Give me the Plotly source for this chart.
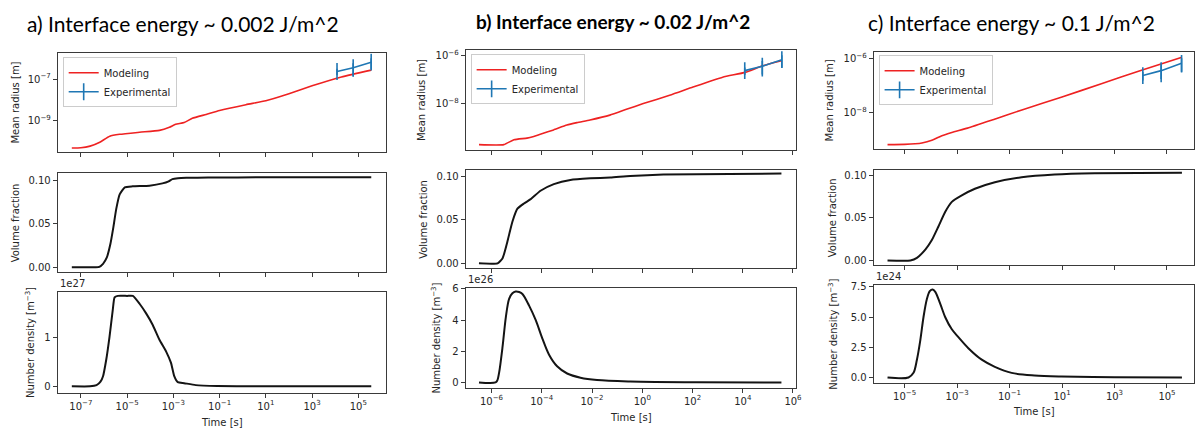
import plotly.graph_objects as go

W, H = 1202, 430

# ---------------- data ----------------
TITLES = ["a) Interface energy ~ 0.002 J/m^2",
          "b) Interface energy ~ 0.02 J/m^2",
          "c) Interface energy ~ 0.1 J/m^2"]

# experimental mean radius (same in all panels)
EXP_T = [1.2e4, 6.0e4, 3.6e5]
EXP_R = [2.3e-7, 3.5e-7, 6.5e-7]
EXP_ERR = [0.8e-7, 2.2e-7, 3.5e-7]

# ---- panel a ----
A_R_LOGT = [-7.39, -7.0, -6.6, -6.18, -5.75, -5.32, -4.46, -3.6, -3.17, -2.9, -2.53, -2.18,
            -1.58, -1.0, 0.14, 1.0, 2.0, 3.0, 4.27, 5.56]
A_R_LOGR = [-10.33, -10.32, -10.24, -10.05, -9.76, -9.67, -9.57, -9.48, -9.33, -9.19, -9.10, -8.90,
            -8.71, -8.52, -8.24, -8.05, -7.71, -7.33, -6.90, -6.57]
A_VF_LOGT = [-7.39, -6.5, -6.2, -6.04, -5.88, -5.72, -5.6, -5.47, -5.32, -5.1, -4.76, -4.03,
             -3.47, -3.2, -3.04, -2.8, -2.44, -1.5, 1.0, 5.56]
A_VF = [0, 0, 0.0005, 0.004, 0.011, 0.027, 0.045, 0.067, 0.084, 0.092, 0.0932, 0.094,
        0.0966, 0.099, 0.1015, 0.1025, 0.103, 0.1034, 0.1036, 0.1037]
A_ND_LOGT = [-7.39, -6.6, -6.32, -6.15, -6.04, -5.9, -5.76, -5.62, -5.54, -5.4, -5.0, -4.75,
             -4.46, -4.17, -3.89, -3.6, -3.31, -3.1, -2.96, -2.81, -2.53, -2.03, -1.1, 0.5, 5.56]
A_ND_1E27 = [0.005, 0.005, 0.03, 0.1, 0.21, 0.55, 1.01, 1.55, 1.81, 1.84, 1.84, 1.84,
             1.68, 1.48, 1.25, 0.95, 0.71, 0.48, 0.21, 0.09, 0.07, 0.03, 0.012, 0.006, 0.005]

# ---- panel b ----
B_R_LOGT = [-6.5, -5.51, -5.11, -4.59, -4.32, -4.06, -3.53, -3.0, -2.6, -2.08, -1.29, -0.63,
            0.04, 1.09, 2.02, 3.2, 4.1, 4.79, 5.54]
B_R_LOGR = [-9.70, -9.70, -9.50, -9.43, -9.36, -9.27, -9.09, -8.89, -8.79, -8.68, -8.48, -8.24,
            -8.0, -7.66, -7.32, -6.91, -6.71, -6.44, -6.23]
B_VF_LOGT = [-6.5, -5.76, -5.56, -5.37, -5.17, -4.97, -4.71, -4.44, -4.05, -3.52, -2.86, -2.07,
             -1.27, -0.48, 0.84, 3.48, 5.54]
B_VF = [0, 0, 0.006, 0.025, 0.048, 0.063, 0.069, 0.074, 0.0837, 0.0913, 0.0962, 0.098,
        0.099, 0.1008, 0.1023, 0.103, 0.1035]
B_ND_LOGT = [-6.5, -5.84, -5.77, -5.7, -5.56, -5.43, -5.3, -5.17, -5.04, -4.9, -4.77, -4.51,
             -4.24, -3.98, -3.71, -3.39, -2.99, -2.46, -1.8, -0.48, 2.16, 5.54]
B_ND_1E26 = [0.02, 0.02, 0.15, 0.63, 2.32, 4.2, 5.37, 5.72, 5.83, 5.8, 5.68, 4.95,
             4.0, 2.84, 1.79, 1.05, 0.59, 0.32, 0.17, 0.08, 0.03, 0.02]

# ---- panel c ----
C_R_LOGT = [-5.65, -5.0, -4.6, -4.34, -3.96, -3.58, -3.2, -2.6, -1.6, -0.5, 1.0, 2.5, 4.0, 5.57]
C_R_LOGR = [-9.19, -9.18, -9.16, -9.13, -9.03, -8.86, -8.74, -8.58, -8.26, -7.9, -7.43, -6.94,
            -6.45, -5.96]
C_VF_LOGT = [-5.65, -4.78, -4.53, -4.21, -3.96, -3.71, -3.45, -3.2, -2.82, -2.32, -1.56, -0.54,
             0.72, 2.24, 5.57]
C_VF = [0, 0, 0.003, 0.0128, 0.024, 0.04, 0.0573, 0.069, 0.0767, 0.0845, 0.0922, 0.098,
        0.1012, 0.1027, 0.1035]
C_ND_LOGT = [-5.65, -4.85, -4.66, -4.53, -4.4, -4.28, -4.15, -4.04, -3.93, -3.83, -3.64, -3.45,
             -3.2, -2.95, -2.57, -2.06, -1.56, -0.92, -0.05, 0.97, 3.0, 5.57]
C_ND_1E24 = [0.02, 0.02, 0.4, 1.49, 3.11, 5.0, 6.5, 7.15, 7.3, 7.1, 6.1, 5.0,
             4.0, 3.35, 2.44, 1.49, 0.9, 0.4, 0.19, 0.1, 0.03, 0.02]

# tick labels
X_TICK_EXP = [[-7, -5, -3, -1, 1, 3, 5], [-6, -4, -2, 0, 2, 4, 6], [-5, -3, -1, 1, 3, 5]]
R_TICK_EXP = [[-9, -7], [-8, -6], [-8, -6]]
VF_TICKS = [0.0, 0.05, 0.10]
VF_TICKTEXT = ["0.00", "0.05", "0.10"]
ND_TICKS = [[0, 1], [0, 2, 4, 6], [0, 2.5, 5.0, 7.5]]
ND_TICKTEXT = [["0", "1"], ["0", "2", "4", "6"], ["0.0", "2.5", "5.0", "7.5"]]
ND_OFFSET = ["1e27", "1e26", "1e24"]

# ---------------- layout geometry (pixels) ----------------
COL_X = [(58, 388), (468, 800), (878, 1200)]
ROW_Y = [[(49, 149), (170, 271), (291, 393)],
         [(46, 147), (167, 267), (287, 388)],
         [(48, 146), (167, 264), (284, 383)]]
X_RANGE = [(-8.0, 6.2), (-7.03, 6.12), (-6.18, 6.03)]
R_RANGE = [(-10.52, -5.76), (-9.92, -5.8), (-9.35, -5.78)]
VF_RANGE = [(-0.0057, 0.109), (-0.0057, 0.108), (-0.0058, 0.107)]
ND_RANGE = [(-0.12, 1.92), (-0.31, 6.06), (-0.41, 7.66)]
YLAB_X = [(16, 16, 30), (423, 426, 438), (834, 837, 837)]
LEG_POS = [(63, 53), (473, 50), (883, 51)]
TITLE_POS = [(184, 19), (616, 17), (1017, 18)]
TITLE_SIZE = [21, 19, 21]
TIMELAB_Y = [423, 418, 412]


def px_x(x):
    return x / W


def px_y(y):
    return 1 - y / H


def sup(e):
    s = str(e).replace("-", "\u2212")
    return f"10<sup>{s}</sup>"


FONT = "DejaVu Sans"
TXT = "#262626"
RED = "#ee2222"
BLUE = "#1f77b4"
BLK = "#141414"

fig = go.Figure()
layout = dict(width=W, height=H, margin=dict(l=0, r=0, t=0, b=0),
              paper_bgcolor="white", plot_bgcolor="white", showlegend=True,
              font=dict(family=FONT, size=10, color=TXT))
annotations = []

panels = [
    (A_R_LOGT, A_R_LOGR, A_VF_LOGT, A_VF, A_ND_LOGT, A_ND_1E27),
    (B_R_LOGT, B_R_LOGR, B_VF_LOGT, B_VF, B_ND_LOGT, B_ND_1E26),
    (C_R_LOGT, C_R_LOGR, C_VF_LOGT, C_VF, C_ND_LOGT, C_ND_1E24),
]

for c, (rlt, rlr, vlt, vf, nlt, nd) in enumerate(panels):
    leg = "legend" if c == 0 else f"legend{c + 1}"
    for r in range(3):
        i = c * 3 + r + 1
        xa = "xaxis" if i == 1 else f"xaxis{i}"
        ya = "yaxis" if i == 1 else f"yaxis{i}"
        y0, y1 = ROW_Y[c][r]
        x0, x1 = COL_X[c]
        common = dict(showline=True, mirror=True, linecolor="#3a3a3a", linewidth=1,
                      ticks="outside", ticklen=4, tickwidth=1, tickcolor="#3a3a3a",
                      showgrid=False, zeroline=False,
                      tickfont=dict(family=FONT, size=10, color=TXT))
        layout[xa] = dict(common, type="log", domain=[px_x(x0), px_x(x1)],
                          range=list(X_RANGE[c]), anchor=f"y{i}" if i > 1 else "y",
                          tickmode="array",
                          tickvals=[10 ** e for e in X_TICK_EXP[c]],
                          ticktext=[sup(e) for e in X_TICK_EXP[c]],
                          showticklabels=(r == 2))
        ydict = dict(common, domain=[px_y(y1), px_y(y0)], anchor=f"x{i}" if i > 1 else "x")
        if r == 0:
            ydict.update(type="log", range=list(R_RANGE[c]), tickmode="array",
                         tickvals=[10 ** e for e in R_TICK_EXP[c]],
                         ticktext=[sup(e) for e in R_TICK_EXP[c]])
        elif r == 1:
            ydict.update(range=list(VF_RANGE[c]), tickmode="array",
                         tickvals=VF_TICKS, ticktext=VF_TICKTEXT)
        else:
            ydict.update(range=list(ND_RANGE[c]), tickmode="array",
                         tickvals=ND_TICKS[c], ticktext=ND_TICKTEXT[c])
        layout[ya] = ydict
        xref = "x" if i == 1 else f"x{i}"
        yref = "y" if i == 1 else f"y{i}"

        if r == 0:
            fig.add_trace(go.Scatter(
                x=[10 ** v for v in rlt], y=[10 ** v for v in rlr], mode="lines",
                line=dict(color=RED, width=1.6, shape="spline", smoothing=0.5),
                name="Modeling", xaxis=xref, yaxis=yref, legend=leg))
            fig.add_trace(go.Scatter(
                x=EXP_T, y=EXP_R, mode="lines+markers",
                line=dict(color=BLUE, width=1.6),
                marker=dict(symbol="line-ns", size=12, color=BLUE,
                            line=dict(color=BLUE, width=1.6)),
                error_y=dict(type="data", array=EXP_ERR, color=BLUE, thickness=1.6, width=0),
                name="Experimental", xaxis=xref, yaxis=yref, legend=leg))
        elif r == 1:
            fig.add_trace(go.Scatter(
                x=[10 ** v for v in vlt], y=vf, mode="lines",
                line=dict(color=BLK, width=2, shape="spline", smoothing=0.5),
                showlegend=False, xaxis=xref, yaxis=yref))
        else:
            fig.add_trace(go.Scatter(
                x=[10 ** v for v in nlt], y=nd, mode="lines",
                line=dict(color=BLK, width=2, shape="spline",
                          smoothing=(0.5 if c == 0 else 0.9)),
                showlegend=False, xaxis=xref, yaxis=yref))

        # y-axis label
        ylab = ["Mean radius [m]", "Volume fraction", "Number density [m<sup>\u22123</sup>]"][r]
        annotations.append(dict(text=ylab, x=px_x(YLAB_X[c][r]), y=px_y((y0 + y1) / 2),
                                xref="paper", yref="paper", textangle=-90,
                                showarrow=False, xanchor="center", yanchor="middle",
                                font=dict(family=FONT, size=10, color=TXT)))
        if r == 2:
            annotations.append(dict(text=ND_OFFSET[c], x=px_x(x0), y=px_y(y0 - 1),
                                    xref="paper", yref="paper", showarrow=False,
                                    xanchor="left", yanchor="bottom",
                                    font=dict(family=FONT, size=10, color=TXT)))
            annotations.append(dict(text="Time [s]", x=px_x((x0 + x1) / 2),
                                    y=px_y(TIMELAB_Y[c]), xref="paper", yref="paper",
                                    showarrow=False, xanchor="center", yanchor="middle",
                                    font=dict(family=FONT, size=10, color=TXT)))

    lx, ly = LEG_POS[c]
    layout[leg] = dict(x=px_x(lx), y=px_y(ly), xanchor="left", yanchor="top",
                       bgcolor="white", bordercolor="#cccccc", borderwidth=1,
                       font=dict(family=FONT, size=10, color=TXT))
    tx, ty = TITLE_POS[c]
    annotations.append(dict(text=(f"<b>{TITLES[c]}</b>" if c == 1 else TITLES[c]),
                            x=px_x(tx), y=px_y(ty), xref="paper", yref="paper",
                            showarrow=False, xanchor="center", yanchor="middle",
                            font=dict(family="Lato", size=TITLE_SIZE[c], color="#000000")))

layout["annotations"] = annotations
fig.update_layout(**layout)
fig.write_html("out.html")
